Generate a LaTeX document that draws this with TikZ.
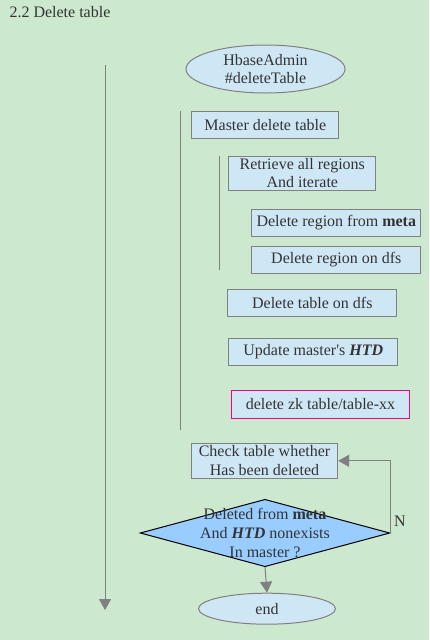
\documentclass[tikz,border=0pt]{standalone}
\usepackage{fontspec}
\setmainfont{Liberation Serif}
\usetikzlibrary{arrows.meta,shapes.geometric}

\definecolor{bggreen}{RGB}{204,232,207}
\definecolor{boxblue}{RGB}{207,231,245}
\definecolor{decblue}{RGB}{153,204,255}
\definecolor{linegray}{RGB}{128,128,128}
\definecolor{txtgray}{RGB}{51,51,51}

\tikzset{
  stepbox/.style={draw=linegray, fill=boxblue, line width=1pt, inner sep=0pt,
    align=center, text=txtgray},
  endbox/.style={ellipse, draw=linegray, fill=boxblue, line width=1pt, inner sep=0pt,
    align=center, text=txtgray},
  flow/.style={draw=linegray, line width=1pt,
    -{Triangle[width=12pt,length=11pt]}, linegray},
  level/.style={draw=linegray, line width=1pt}
}

\begin{document}
\begin{tikzpicture}[x=1pt, y=-1pt, font=\fontsize{16}{18.6}\selectfont]
    \fill[bggreen] (0,0) rectangle (429,640);
    \useasboundingbox (0,0) rectangle (429,640);
    \node[anchor=base west, text=txtgray] (title) at (6,17) {2.2 Delete table};

    % start and end
    \node[endbox, minimum width=159pt, minimum height=48pt] (start) at (265.5,69)
      {HbaseAdmin\\\#deleteTable};
    \node[endbox, minimum width=137pt, minimum height=31pt] (stop) at (267,608.7) {end};

    % steps
    \node[stepbox, minimum width=146.7pt, minimum height=27.3pt] (master) at (265.3,124.7)
      {Master delete table};
    \node[stepbox, minimum width=146.7pt, minimum height=34.3pt] (regions) at (302.3,173.2)
      {Retrieve all regions\\And iterate};
    \node[stepbox, minimum width=168.7pt, minimum height=27pt] (regmeta) at (336.3,222.5)
      {Delete region from \textbf{meta}};
    \node[stepbox, minimum width=168.7pt, minimum height=27pt] (regdfs) at (336.3,259.8)
      {Delete region on dfs};
    \node[stepbox, minimum width=168.7pt, minimum height=27.3pt] (tabdfs) at (312.3,303)
      {Delete table on dfs};
    \node[stepbox, minimum width=168.7pt, minimum height=27.3pt] (htd) at (313.3,351.7)
      {Update master\textquotesingle s \textbf{\textit{HTD}}};
    \node[stepbox, draw=magenta, minimum width=178.3pt, minimum height=28pt] (zk) at (320.5,404.3)
      {delete zk table/table-xx};
    \node[stepbox, minimum width=146.3pt, minimum height=35pt] (check) at (264.5,460.8)
      {Check table whether\\Has been deleted};

    % decision
    \node[diamond, draw=black, fill=decblue, line width=1pt, inner sep=0pt, aspect=3.7,
      minimum width=249.7pt, minimum height=67.4pt] (dec) at (265,533) {};
    \node[align=center, text=txtgray] (dectext) at (dec.center)
      {Deleted from \textbf{meta}\\And \textbf{\textit{HTD}} nonexists\\In master ?};

    % nesting lines
    \coordinate (outtop) at (105,65);
    \coordinate (outbot) at (105,610);
    \coordinate (midtop) at (180.5,111);
    \coordinate (midbot) at (180.5,430);
    \coordinate (intop) at (219,156);
    \coordinate (inbot) at (219,270);
    \draw[flow] (outtop) -- (outbot);
    \draw[level] (midtop) -- (midbot);
    \draw[level] (intop) -- (inbot);

    % connectors
    \draw[flow] (dec.south) -- (stop.north);
    \draw[flow] (dec.east) |- (check.east);
    \node[text=txtgray] (no) at (400,521) {N};
\end{tikzpicture}
\end{document}
